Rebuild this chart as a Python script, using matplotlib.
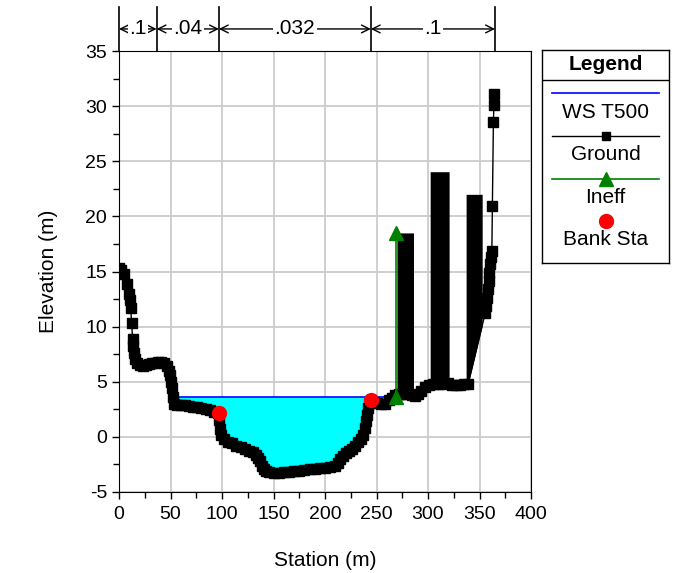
import matplotlib
matplotlib.use('Agg')
import matplotlib.pyplot as plt
import numpy as np
from matplotlib.ticker import MultipleLocator

plt.rcParams['font.family'] = ['Liberation Sans', 'DejaVu Sans']
plt.rcParams['axes.unicode_minus'] = False

# ground profile (station m, elevation m)
ground_sta = [0, 2, 4.5, 7.5, 9.5, 10.7, 11.3, 12.3, 13.2, 13.6, 14.3, 15.5, 17.5, 20, 23, 26,
              29, 32, 35, 38, 41, 44, 47, 48.5, 49.5, 50.5, 51.2, 52, 53, 56, 60, 64, 68, 72,
              76, 80, 84, 88, 92, 96, 97.5, 98, 99, 102, 106, 110, 114, 118, 122, 126, 130,
              133, 135, 137, 139, 141, 143, 146, 150, 155, 160, 165, 170, 175, 180, 185, 190,
              195, 200, 205, 210, 213, 215, 217, 220, 223, 226, 229, 232, 235, 237, 239, 240,
              241, 242, 243.5, 244.5, 247, 250, 254, 258, 262, 265, 268, 272, 276, 280, 284,
              287, 290, 293, 297, 301, 305, 310, 315, 319, 323, 327, 331, 335, 339, 355.5,
              356.5, 357.5, 358.5, 359, 359.5, 360.3, 361, 362, 362.5, 363.5, 364, 364.5]
ground_elev = [15.3, 15.1, 14.8, 13.9, 13.0, 12.4, 11.7, 10.3, 8.9, 8.2, 7.6, 7.1, 6.7, 6.5,
               6.4, 6.5, 6.6, 6.7, 6.7, 6.8, 6.8, 6.7, 6.4, 6.0, 5.6, 5.0, 4.4, 3.6, 3.0, 2.9,
               2.9, 2.85, 2.8, 2.75, 2.7, 2.6, 2.5, 2.4, 2.3, 2.2, 1.5, 0.7, 0.2, -0.2, -0.45,
               -0.6, -0.8, -0.95, -1.1, -1.25, -1.4, -1.6, -1.9, -2.2, -2.6, -2.9, -3.1, -3.2,
               -3.25, -3.25, -3.2, -3.15, -3.1, -3.05, -3.0, -2.95, -2.9, -2.85, -2.8, -2.75,
               -2.65, -2.4, -2.0, -1.7, -1.5, -1.3, -1.1, -0.8, -0.5, -0.2, 0.2, 0.8, 1.4, 2.0,
               2.6, 3.1, 3.3, 3.2, 3.1, 3.0, 3.0, 3.3, 3.5, 3.8, 3.9, 3.9, 3.9, 3.8, 3.7, 3.9,
               4.2, 4.5, 4.7, 4.8, 4.8, 4.8, 4.9, 4.7, 4.7, 4.7, 4.8, 4.8, 11.2, 11.9, 12.6,
               13.4, 14.1, 14.9, 15.7, 16.3, 16.9, 20.9, 28.6, 30.1, 31.1]

ws_elev = 3.6
ws_sta = [52, 268.5]

# blocked obstructions: left, right, top elevation
block_left = [269.8, 302.1, 337.0]
block_right = [285.9, 320.5, 352.6]
block_top = [18.5, 24.05, 22.0]

ineff_sta = [268.5, 268.5]
ineff_elev = [3.65, 18.5]

bank_sta = [97, 244.5]
bank_elev = [2.2, 3.3]

n_bounds = [0, 36.5, 97, 244.5, 365]
n_values = ['.1', '.04', '.032', '.1']

fig = plt.figure(figsize=(6.77, 5.73), dpi=100)
ax = fig.add_axes([119 / 677, 1 - 492 / 573, 412 / 677, 441 / 573])

gs = np.array(ground_sta)
ge = np.array(ground_elev)

# water
m = (gs >= ws_sta[0]) & (gs <= ws_sta[1])
ax.fill_between(gs[m], ge[m], ws_elev, where=ge[m] < ws_elev, interpolate=True,
                color='#00ffff', lw=0, zorder=2)
ax.plot(ws_sta, [ws_elev, ws_elev], color='#0000ff', lw=1.2, zorder=3)

# obstructions
for l, r, t in zip(block_left, block_right, block_top):
    xs = np.linspace(l, r, 30)
    ax.fill_between(xs, np.interp(xs, gs, ge), t, color='black', lw=0, zorder=4)

ax.plot(gs, ge, color='black', lw=1, marker='s', ms=7.5, zorder=5)

ax.plot(ineff_sta, ineff_elev, color='#008000', lw=1.2, marker='^', ms=10, zorder=6)
ax.plot(bank_sta, bank_elev, 'o', color='red', ms=10, zorder=7)

ax.set_xlim(0, 400)
ax.set_ylim(-5, 35)
ax.xaxis.set_major_locator(MultipleLocator(50))
ax.xaxis.set_minor_locator(MultipleLocator(25))
ax.yaxis.set_major_locator(MultipleLocator(5))
ax.yaxis.set_minor_locator(MultipleLocator(2.5))
ax.grid(True, which='major', color='#cccccc', lw=1.3, zorder=0)
ax.set_axisbelow(True)
ax.tick_params(which='major', length=5, labelsize=14, width=1)
ax.tick_params(axis='x', which='major', pad=5)
ax.tick_params(which='minor', length=4, width=1)
ax.set_xlabel('Station (m)', fontsize=15, labelpad=20)
ax.set_ylabel('Elevation (m)', fontsize=15, labelpad=20)

# Manning's n bar
tr = ax.get_xaxis_transform()
for b in n_bounds:
    ax.plot([b, b], [1.0, 1.1], transform=tr, color='black', lw=1.2, clip_on=False)
for a, b, lab in zip(n_bounds[:-1], n_bounds[1:], n_values):
    ax.annotate('', xy=(a, 1.05), xytext=(b, 1.05), xycoords=tr, textcoords=tr,
                arrowprops=dict(arrowstyle='<->', lw=1, shrinkA=0, shrinkB=0,
                                mutation_scale=14))
    ax.text((a + b) / 2, 1.05, lab, transform=tr, ha='center', va='center', fontsize=15,
            bbox=dict(facecolor='white', edgecolor='none', pad=1))

# legend box
lg = fig.add_axes([542 / 677, 1 - 263 / 573, 127 / 677, 213 / 573])
lg.set_xlim(542, 669)
lg.set_ylim(263, 50)
lg.set_xticks([])
lg.set_yticks([])
for s in lg.spines.values():
    s.set_linewidth(1)
lg.text(605.5, 64, 'Legend', ha='center', va='center', fontsize=15, fontweight='bold')
lg.plot([542, 669], [80, 80], color='black', lw=1)
lg.plot([552, 659], [93, 93], color='#0000ff', lw=1.2)
lg.text(605.5, 112, 'WS T500', ha='center', va='center', fontsize=15)
lg.plot([552, 659], [136, 136], color='black', lw=1)
lg.plot([605.5], [136], 's', color='black', ms=6)
lg.text(605.5, 154, 'Ground', ha='center', va='center', fontsize=15)
lg.plot([552, 659], [179, 179], color='#008000', lw=1.2)
lg.plot([605.5], [179], '^', color='#008000', ms=10)
lg.text(605.5, 197, 'Ineff', ha='center', va='center', fontsize=15)
lg.plot([605.5], [221], 'o', color='red', ms=10)
lg.text(605.5, 239, 'Bank Sta', ha='center', va='center', fontsize=15)

fig.savefig('out.png', dpi=100)
